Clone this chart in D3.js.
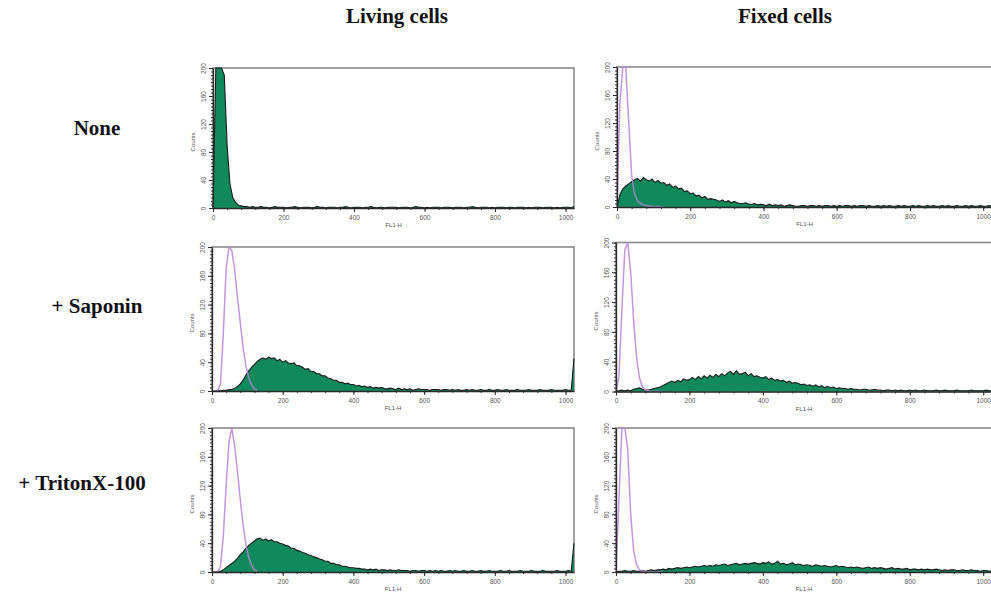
<!DOCTYPE html>
<html>
<head>
<meta charset="utf-8">
<script src="https://cdn.jsdelivr.net/npm/d3@7"></script>
<style>
body { margin: 0; background: #fff; }
</style>
</head>
<body>
<div id="chart"></div>
<script>
var w = 991;
var h = 599;

var colTitles = ["Living cells", "Fixed cells"];
var rowTitles = ["None", "+ Saponin", "+ TritonX-100"];
var xTicks = [0, 200, 400, 600, 800, 1000];
var yTicks = [0, 40, 80, 120, 160, 200];
var xLabel = "FL1-H";
var yLabel = "Counts";

// histograms, one value every 8 channels (0..1024)
var step = 8;

var noneLiving = [
  0,230,300,280,190,90,35,15,8,4,3,2,2,1,2,1,
  1,2,1,1,0,1,2,1,1,1,0,1,1,2,1,0,
  1,1,1,0,1,2,1,1,0,1,1,1,0,1,1,2,
  1,0,1,1,1,0,1,1,2,1,0,1,1,0,1,1,
  1,1,0,1,1,1,0,1,2,1,1,0,1,0,1,1,
  1,0,1,1,1,0,1,1,1,0,1,1,2,1,0,1,
  1,1,0,1,0,1,1,1,0,1,1,0,1,1,1,0,
  1,0,1,1,1,0,1,1,1,0,1,0,1,1,1,0,
  2];
var noneFixed = [
  0,18,26,30,33,36,39,41,37,42,39,37,40,35,38,34,
  35,31,33,28,30,26,27,22,23,19,20,16,17,13,15,11,
  12,11,10,8,10,7,9,6,8,6,5,5,6,4,4,5,
  3,4,3,2,4,2,3,2,3,1,2,3,2,1,1,2,
  2,1,2,2,1,2,1,2,2,1,2,1,2,1,2,2,
  1,2,1,2,2,1,2,1,1,2,1,2,1,2,1,1,
  2,1,2,1,1,2,1,2,1,1,2,1,2,1,1,2,
  1,2,1,1,2,1,1,2,1,2,1,1,2,1,1,2,
  1];
var saponinLiving = [
  0,0,1,0,1,1,2,2,4,6,10,15,22,28,33,37,
  41,44,46,44,47,45,46,42,44,40,42,39,38,39,35,35,
  33,30,31,27,27,24,24,21,21,18,17,15,15,12,12,10,
  11,9,9,7,8,6,7,5,6,4,5,4,5,3,3,4,
  3,2,4,2,3,2,3,1,2,3,2,2,2,1,2,2,
  2,1,2,2,1,2,1,2,1,1,2,1,2,1,1,2,
  1,1,2,1,1,2,1,1,2,1,1,1,2,1,1,1,
  2,1,1,1,2,1,1,1,2,1,1,1,1,2,1,1,
  45];
var saponinFixed = [
  0,1,2,1,2,1,3,4,5,3,2,2,3,4,5,6,
  8,10,12,14,12,15,13,17,15,16,19,16,20,17,21,18,
  22,19,23,20,24,21,25,27,23,28,23,24,26,21,24,20,
  21,19,18,20,16,18,15,16,14,15,12,14,11,12,11,9,
  10,8,9,7,9,6,8,5,7,5,6,4,5,4,4,3,
  4,3,3,2,3,3,2,2,3,2,2,1,2,2,1,2,
  1,2,1,1,2,1,2,1,1,2,1,1,1,2,1,1,
  2,1,1,1,2,1,1,1,1,2,1,1,1,1,2,1,
  1];
var tritonLiving = [
  0,0,1,1,3,6,9,12,15,19,24,28,33,37,40,43,
  46,47,44,46,43,45,42,42,40,39,37,36,33,33,30,29,
  27,26,24,23,21,20,18,17,15,15,12,12,10,10,8,8,
  7,6,6,5,5,4,4,3,4,3,4,2,3,3,2,3,
  2,2,3,2,2,2,1,2,2,1,2,2,1,2,1,2,
  1,2,1,1,2,1,2,1,1,2,1,1,2,1,1,2,
  1,1,2,1,1,1,2,1,1,2,1,1,1,2,1,1,
  1,2,1,1,1,2,1,1,1,1,2,1,1,1,2,1,
  40];
var tritonFixed = [
  0,1,1,2,1,1,2,1,1,2,1,2,3,2,3,3,
  4,3,5,4,5,6,5,6,7,6,7,8,7,8,9,8,
  9,8,10,9,10,11,9,10,11,12,10,11,12,11,12,13,
  12,11,13,12,14,11,12,15,11,12,10,11,13,10,11,10,
  9,10,9,8,10,9,8,9,8,7,8,9,7,8,7,6,
  7,6,7,6,5,6,7,5,6,5,6,5,4,5,6,4,
  5,4,4,5,3,4,4,3,4,3,4,3,3,4,3,2,
  3,2,3,3,2,2,3,2,2,3,2,2,1,2,2,1,
  2];

// unstained controls (channels 0..128)
var controlNoneFixed = [0,150,320,260,120,45,18,9,5,3,2,1,1,0,1,0,0];
var controlSaponinLiving = [0,0,0,10,80,170,200,195,170,130,95,60,35,18,8,3,1];
var controlSaponinFixed = [0,20,110,190,200,160,95,45,18,6,2,1,0,0,0,0,0];
var controlTritonLiving = [0,0,0,8,50,120,180,200,175,140,100,65,38,20,9,3,1];
var controlTritonFixed = [0,100,230,240,170,80,30,10,3,1,0,0,0,0,0,0,0];

var panels = [
  { row: 0, col: 0, stained: noneLiving, control: null, left: 213, right: 574, top: 68, bottom: 208 },
  { row: 0, col: 1, stained: noneFixed, control: controlNoneFixed, left: 617, right: 992, top: 67, bottom: 207 },
  { row: 1, col: 0, stained: saponinLiving, control: controlSaponinLiving, left: 212, right: 574, top: 247, bottom: 391 },
  { row: 1, col: 1, stained: saponinFixed, control: controlSaponinFixed, left: 616, right: 992, top: 242.5, bottom: 391.5 },
  { row: 2, col: 0, stained: tritonLiving, control: controlTritonLiving, left: 212, right: 574, top: 428, bottom: 572 },
  { row: 2, col: 1, stained: tritonFixed, control: controlTritonFixed, left: 616, right: 992, top: 428, bottom: 572 }
];

var svg = d3.select("#chart")
    .append("svg")
    .attr("width", w)
    .attr("height", h)
    .style("font-family", "'Liberation Sans', Arial, sans-serif");

svg.append("rect").attr("width", w).attr("height", h).attr("fill", "#fff");

// column and row titles
var titleFont = "'Liberation Serif', 'Times New Roman', serif";
var colX = [397, 785];
svg.selectAll(".coltitle")
    .data(colTitles)
    .enter()
    .append("text")
    .attr("x", function(d, i) { return colX[i]; })
    .attr("y", 23)
    .attr("text-anchor", "middle")
    .style("font-family", titleFont)
    .style("font-weight", "bold")
    .style("font-size", "21px")
    .attr("fill", "#111")
    .text(function(d) { return d; });

var rowX = [97, 97, 82];
var rowY = [135, 313, 490];
svg.selectAll(".rowtitle")
    .data(rowTitles)
    .enter()
    .append("text")
    .attr("x", function(d, i) { return rowX[i]; })
    .attr("y", function(d, i) { return rowY[i]; })
    .attr("text-anchor", "middle")
    .style("font-family", titleFont)
    .style("font-weight", "bold")
    .style("font-size", "21px")
    .attr("fill", "#111")
    .text(function(d) { return d; });

panels.forEach(function(p) {
    var x = d3.scaleLinear().domain([0, 1024]).range([p.left, p.right]);
    var y = d3.scaleLinear().domain([0, 200]).range([p.bottom, p.top]).clamp(true);
    var g = svg.append("g");

    // frame
    g.append("rect")
        .attr("x", x(0))
        .attr("y", y(200))
        .attr("width", x(1024) - x(0))
        .attr("height", y(0) - y(200))
        .attr("fill", "none")
        .attr("stroke", "#8a8a8a")
        .attr("stroke-width", 1.6);

    var area = d3.area()
        .x(function(d, i) { return x(i * step); })
        .y0(y(0))
        .y1(function(d) { return y(d); });
    var line = d3.line()
        .x(function(d, i) { return x(i * step); })
        .y(function(d) { return y(d); });

    g.append("path")
        .datum(p.stained)
        .attr("d", area)
        .attr("fill", "#10895c");
    g.append("path")
        .datum(p.stained)
        .attr("d", line)
        .attr("fill", "none")
        .attr("stroke", "#1a1a1a")
        .attr("stroke-width", 1.1);

    if (p.control) {
        g.append("path")
            .datum(p.control)
            .attr("d", line)
            .attr("fill", "none")
            .attr("stroke", "#bb82d8")
            .attr("stroke-opacity", 0.85)
            .attr("stroke-width", 1.5);
    }

    // minor ticks
    g.append("g")
        .attr("transform", "translate(0," + y(0) + ")")
        .call(d3.axisBottom(x).tickValues(d3.range(0, 1024, 40)).tickSize(2).tickFormat(""))
        .call(function(a) { a.select(".domain").remove(); a.selectAll("line").attr("stroke", "#333"); });
    g.append("g")
        .attr("transform", "translate(" + x(0) + ",0)")
        .call(d3.axisLeft(y).tickValues(d3.range(0, 201, 5)).tickSize(2).tickFormat(""))
        .call(function(a) { a.select(".domain").remove(); a.selectAll("line").attr("stroke", "#333"); });

    // major axes
    var xa = g.append("g")
        .attr("transform", "translate(0," + y(0) + ")")
        .call(d3.axisBottom(x).tickValues(xTicks).tickFormat(d3.format("d")).tickSize(4).tickSizeOuter(0));
    xa.select(".domain").attr("stroke", "#2a2a2a").attr("stroke-width", 1.3);
    xa.selectAll("line").attr("stroke", "#2a2a2a");
    xa.selectAll("text")
        .attr("y", 7)
        .attr("fill", "#555")
        .style("font-size", "6.5px");

    var ya = g.append("g")
        .attr("transform", "translate(" + x(0) + ",0)")
        .call(d3.axisLeft(y).tickValues(yTicks).tickSize(4).tickSizeOuter(0));
    ya.select(".domain").attr("stroke", "#2a2a2a").attr("stroke-width", 1.3);
    ya.selectAll("line").attr("stroke", "#2a2a2a");
    ya.selectAll("text")
        .attr("transform", "rotate(-90)")
        .attr("x", 0)
        .attr("y", -7)
        .attr("dy", 0)
        .attr("text-anchor", "middle")
        .attr("fill", "#555")
        .style("font-size", "6.5px");

    g.append("text")
        .attr("x", (x(0) + x(1024)) / 2)
        .attr("y", y(0) + 19)
        .attr("text-anchor", "middle")
        .attr("fill", "#555")
        .style("font-size", "6px")
        .text(xLabel);

    g.append("text")
        .attr("transform", "translate(" + (x(0) - 18) + "," + ((y(0) + y(200)) / 2 + 4) + ") rotate(-90)")
        .attr("text-anchor", "middle")
        .attr("fill", "#555")
        .style("font-size", "6px")
        .text(yLabel);
});
</script>
</body>
</html>
